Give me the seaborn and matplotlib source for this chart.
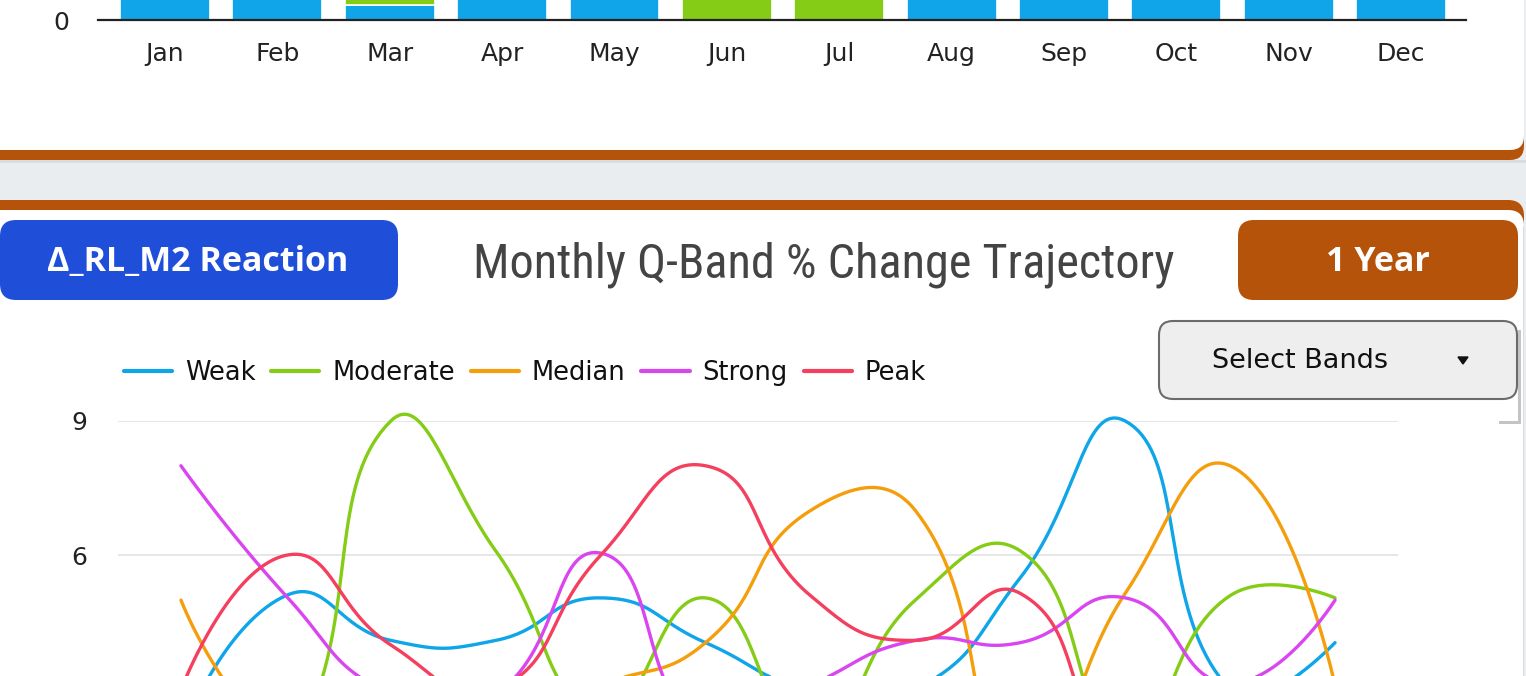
import numpy as np
import pandas as pd
import matplotlib
matplotlib.use("Agg")
import matplotlib.pyplot as plt
import seaborn as sns
from matplotlib import font_manager
from matplotlib.font_manager import FontProperties
from matplotlib.patches import FancyBboxPatch, Rectangle, Polygon

# ---------------- data ----------------
months = ["Jan", "Feb", "Mar", "Apr", "May", "Jun", "Jul", "Aug", "Sep", "Oct", "Nov", "Dec"]
bands = ["Weak", "Moderate", "Median", "Strong", "Peak"]

# upper panel (only the base of the stacked bars is visible)
bar_weak = [1.0, 1.0, 0.05, 1.0, 1.0, 0.0, 0.0, 1.0, 1.0, 1.0, 1.0, 1.0]
bar_moderate = [0.0, 0.0, 0.95, 0.0, 0.0, 1.0, 1.0, 0.0, 0.0, 0.0, 0.0, 0.0]
bar_ticks = [0]

# lower panel: monthly % change per band
weak = [2.0, 5.1, 4.1, 4.1, 5.05, 4.05, 3.0, 3.0, 5.5, 9.0, 3.0, 4.05]
moderate = [2.0, 1.5, 9.0, 6.1, 2.5, 5.05, 2.0, 5.0, 6.1, 2.0, 5.1, 5.05]
median = [5.0, 1.8, 2.0, 2.2, 3.1, 4.05, 7.0, 7.0, 1.0, 5.15, 8.0, 3.1]
strong = [8.0, 5.1, 2.9, 2.9, 6.05, 2.0, 3.1, 4.1, 4.05, 5.05, 3.15, 5.0]
peak = [3.0, 6.0, 4.0, 3.0, 6.0, 8.0, 5.1, 4.1, 5.15, 1.5, 2.0, 2.5]
line_ticks = [6, 9]

series = {"Weak": weak, "Moderate": moderate, "Median": median, "Strong": strong, "Peak": peak}
colors = {"Weak": "#0ea5e9", "Moderate": "#84cc16", "Median": "#f59e0b",
          "Strong": "#d946ef", "Peak": "#f43f5e"}

W, H = 1526, 676
BROWN = "#b45309"
BASE_FONT = "DejaVu Sans"


def fx(px):
    return px / W


def fy(py):
    return 1 - py / H


def smooth_curve(vals, sx, sy, smooth=0.5, n=40):
    """Bezier smoothing of a polyline (display only, like a 'smooth' line option)."""
    P = np.column_stack([np.arange(len(vals)) * sx, np.asarray(vals, float) * sy])
    m = len(P)
    cin = P.copy()
    cout = P.copy()
    for i in range(1, m - 1):
        v = P[i + 1] - P[i - 1]
        d0 = np.hypot(*(P[i] - P[i - 1]))
        d1 = np.hypot(*(P[i + 1] - P[i]))
        r = d1 / (d0 + d1)
        cout[i] = P[i] + v * smooth * r
        cin[i] = P[i] - v * smooth * (1 - r)
    t = np.linspace(0, 1, n)[:, None]
    segs = []
    for i in range(m - 1):
        a, b, c, d = P[i], cout[i], cin[i + 1], P[i + 1]
        seg = (1 - t) ** 3 * a + 3 * (1 - t) ** 2 * t * b + 3 * (1 - t) * t ** 2 * c + t ** 3 * d
        segs.append(seg if i == 0 else seg[1:])
    S = np.vstack(segs)
    return S[:, 0] / sx, S[:, 1] / sy


def condensed_font():
    """Pick an installed condensed/narrow regular face for the title, if any."""
    prefs = ["Roboto Condensed", "Roboto", "Noto Sans", "Open Sans", "Liberation Sans Narrow",
             "Liberation Sans", "DejaVu Sans Condensed", "DejaVu Sans"]
    cands = []
    for f in font_manager.fontManager.ttflist:
        st = str(f.stretch).lower()
        nm = f.name
        is_cond = ("condensed" in st and "extra" not in st and "ultra" not in st) or \
                  ("Condensed" in nm) or ("Narrow" in nm)
        w = f.weight if isinstance(f.weight, int) else 400
        if is_cond and f.style == "normal" and w in (400, "normal") and "Semi" not in nm:
            rank = prefs.index(nm) if nm in prefs else len(prefs)
            cands.append((rank, f.fname))
    if cands:
        cands.sort()
        return FontProperties(fname=cands[0][1])
    return FontProperties(family="Roboto")


# ---------------- figure ----------------
sns.set_theme(style="white")
plt.rcParams["font.family"] = [BASE_FONT]

fig = plt.figure(figsize=(W / 100, H / 100), dpi=100)
fig.patch.set_facecolor("#e9edf0")

bg = fig.add_axes([0, 0, 1, 1], zorder=0)
bg.set_xlim(0, W)
bg.set_ylim(H, 0)
bg.axis("off")

# top card
bg.add_patch(Rectangle((-40, 160), W + 80, 3, color="#d8dcdf", lw=0))
bg.add_patch(FancyBboxPatch((-40, -100), 1564, 260, boxstyle="round,pad=0,rounding_size=14",
                            fc=BROWN, ec="none"))
bg.add_patch(FancyBboxPatch((-40, -100), 1564, 250, boxstyle="round,pad=0,rounding_size=14",
                            fc="white", ec="none"))
# bottom card
bg.add_patch(FancyBboxPatch((-40, 200), 1564, 600, boxstyle="round,pad=0,rounding_size=16",
                            fc=BROWN, ec="none"))
bg.add_patch(FancyBboxPatch((-40, 210), 1564, 600, boxstyle="round,pad=0,rounding_size=16",
                            fc="white", ec="none"))
bg.add_patch(Rectangle((1522.5, 226), 1.5, 460, color="#dcdcdc", lw=0))

# header badges
badge_font = ["Open Sans", "DejaVu Sans"]
bg.add_patch(FancyBboxPatch((0, 220), 398, 80, boxstyle="round,pad=0,rounding_size=16",
                            fc="#1f4fd8", ec="none"))
bg.text(198, 262, "Δ_RL_M2 Reaction", ha="center", va="center", color="white",
        fontsize=24.5, fontweight="bold", family=badge_font)
bg.add_patch(FancyBboxPatch((1238, 220), 280, 80, boxstyle="round,pad=0,rounding_size=16",
                            fc=BROWN, ec="none"))
bg.text(1378, 262, "1 Year", ha="center", va="center", color="white",
        fontsize=24.5, fontweight="bold", family=badge_font)

# title: fit its width to the header gap
title_fp = condensed_font()
title_fp.set_size(33)
title = bg.text(824, 265, "Monthly Q-Band % Change Trajectory", ha="center", va="center",
                color="#444444", fontproperties=title_fp)
renderer = fig.canvas.get_renderer()
tw = title.get_window_extent(renderer).width
new_size = float(np.clip(33 * 702.0 / tw, 28, 36))
title.set_fontsize(new_size)

# dropdown with its small backing panel
bg.add_patch(Rectangle((1499, 330), 22, 94, color="#c4c4c4", lw=0))
bg.add_patch(Rectangle((1496, 326), 22, 95, color="white", lw=0))
bg.add_patch(FancyBboxPatch((1159, 321), 358, 78, boxstyle="round,pad=0,rounding_size=14",
                            fc="#eeeeee", ec="#6b6b6b", lw=1.5))
bg.text(1300, 361, "Select Bands", ha="center", va="center", color="#111111", fontsize=19.5)
bg.add_patch(Polygon([[1458, 357], [1468, 357], [1463, 364]], closed=True, color="#111111"))

# ---------------- upper bar chart (cropped) ----------------
axb = fig.add_axes([fx(98), fy(20), fx(1466) - fx(98), 300 / H], zorder=1)
axb.patch.set_alpha(0)
bar_df = pd.DataFrame({"month": months, "weak": bar_weak, "moderate": bar_moderate})
sns.barplot(data=bar_df, x="month", y="weak", color="#10a5e8", saturation=1, width=0.8,
            edgecolor="white", linewidth=1.2, ax=axb)
sns.barplot(data=bar_df, x="month", y="moderate", color="#84cc16", saturation=1, width=0.8,
            bottom=bar_weak, edgecolor="white", linewidth=1.2, ax=axb)
axb.set_xlim(-0.596, 11.578)
axb.set_ylim(0, 1)
axb.set_yticks(bar_ticks)
axb.set_yticklabels([str(v) for v in bar_ticks])
axb.set_xlabel("")
axb.set_ylabel("")
for s in ["top", "right", "left"]:
    axb.spines[s].set_visible(False)
axb.spines["bottom"].set_color("#222222")
axb.spines["bottom"].set_linewidth(1.6)
axb.tick_params(axis="x", length=0, pad=16, labelsize=18, labelcolor="#222222")
axb.tick_params(axis="y", length=0, pad=21, labelsize=18, labelcolor="#222222")

# ---------------- lower line chart (cropped) ----------------
axl = fig.add_axes([fx(118), fy(824), fx(1398) - fx(118), 403 / H], zorder=1)
axl.patch.set_alpha(0)
sx, sy = 104.9, 44.77
rows = []
for b in bands:
    xs, ys = smooth_curve(series[b], sx, sy)
    rows.append(pd.DataFrame({"x": xs, "y": ys, "band": b}))
line_df = pd.concat(rows, ignore_index=True)
sns.lineplot(data=line_df, x="x", y="y", hue="band", hue_order=bands, palette=colors,
             sort=False, estimator=None, units="band", linewidth=2.4, ax=axl)
for ln in axl.lines:
    ln.set_clip_on(False)
axl.set_xlim(-0.6, 11.6)
axl.set_ylim(0, 9)
axl.set_xticks(range(len(months)))
axl.set_xticklabels(months)
axl.set_yticks(line_ticks)
axl.set_yticklabels([str(v) for v in line_ticks])
axl.set_xlabel("")
axl.set_ylabel("")
for s in axl.spines.values():
    s.set_visible(False)
axl.yaxis.grid(True, color="#e3e3e3", lw=1.2)
axl.xaxis.grid(False)
axl.tick_params(axis="y", length=0, pad=22, labelsize=18, labelcolor="#222222")
axl.tick_params(axis="x", length=0, labelbottom=False)

handles, labels = axl.get_legend_handles_labels()
axl.get_legend().remove()
leg = axl.legend(handles, labels, loc="center left", bbox_to_anchor=(fx(124), fy(373)),
                 bbox_transform=fig.transFigure, ncol=5, frameon=False, fontsize=18.5,
                 handlelength=1.87, handletextpad=0.5, columnspacing=0.62,
                 borderpad=0, borderaxespad=0)
for h in leg.legend_handles:
    h.set_linewidth(3)
for t in leg.get_texts():
    t.set_color("#111111")

fig.savefig("out.png", dpi=100, facecolor=fig.get_facecolor())
